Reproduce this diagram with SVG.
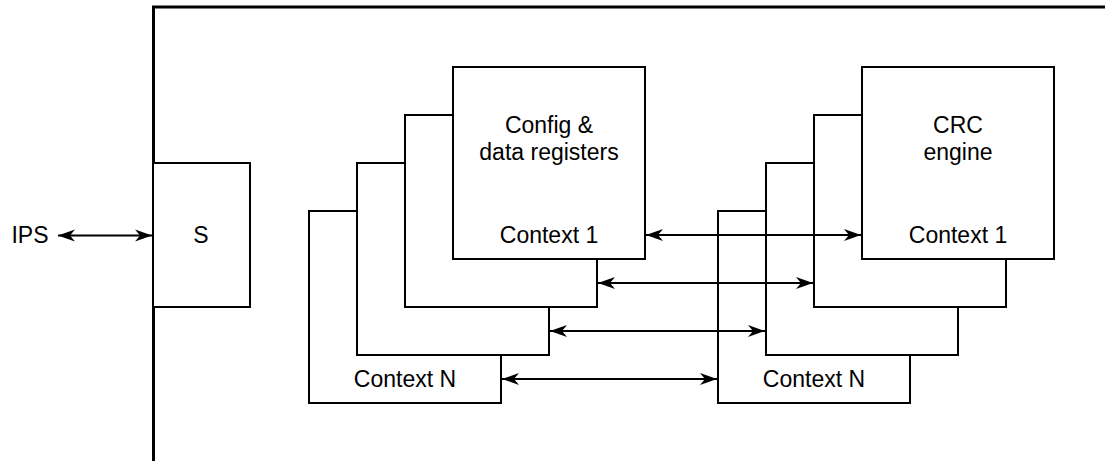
<svg xmlns="http://www.w3.org/2000/svg" width="1105" height="461" viewBox="0 0 1105 461">
<style>
.box{fill:#fff;stroke:#000;stroke-width:2}
.lbl{font-family:"Liberation Sans",Arial,sans-serif;font-size:23px;fill:#000;text-anchor:middle}
.conn{stroke:#000;stroke-width:2;fill:none;marker-start:url(#ah);marker-end:url(#ah)}
</style>
<defs>
<marker id="ah" markerUnits="userSpaceOnUse" markerWidth="20" markerHeight="14" viewBox="0 -7 18 14" refX="17" refY="0" orient="auto-start-reverse">
<path d="M0,-6 L17,0 L0,6 L5,0 Z" fill="#000"/>
</marker>
</defs>
<rect width="1105" height="461" fill="#fff"/>
<g id="frame">
<path d="M153.5,461 V7 H1105" fill="none" stroke="#000" stroke-width="3"/>
</g>
<g id="s-block">
<rect class="box" x="153" y="163" width="97" height="144"/>
<text class="lbl" x="201" y="243">S</text>
</g>
<text id="ips" class="lbl" x="30" y="243">IPS</text>
<g id="regs-n">
<rect class="box" x="309" y="211" width="192" height="192"/>
<text class="lbl" x="405" y="387">Context N</text>
</g>
<g id="regs-3">
<rect class="box" x="357" y="163" width="192" height="192"/>
</g>
<g id="regs-2">
<rect class="box" x="405" y="115" width="192" height="192"/>
</g>
<g id="regs-1">
<rect class="box" x="453" y="67" width="192" height="192"/>
<text class="lbl" x="549" y="133">Config &amp;</text>
<text class="lbl" x="549" y="160">data registers</text>
<text class="lbl" x="549" y="243">Context 1</text>
</g>
<g id="crc-n">
<rect class="box" x="718" y="211" width="192" height="192"/>
<text class="lbl" x="814" y="387">Context N</text>
</g>
<g id="crc-3">
<rect class="box" x="766" y="163" width="192" height="192"/>
</g>
<g id="crc-2">
<rect class="box" x="814" y="115" width="192" height="192"/>
</g>
<g id="crc-1">
<rect class="box" x="862" y="67" width="192" height="192"/>
<text class="lbl" x="958" y="133">CRC</text>
<text class="lbl" x="958" y="160">engine</text>
<text class="lbl" x="958" y="243">Context 1</text>
</g>
<g id="connectors">
<line class="conn" x1="58" y1="235.5" x2="152" y2="235.5"/>
<line class="conn" x1="646" y1="235" x2="861" y2="235"/>
<line class="conn" x1="598" y1="283" x2="813" y2="283"/>
<line class="conn" x1="550" y1="331" x2="765" y2="331"/>
<line class="conn" x1="502" y1="379" x2="717" y2="379"/>
</g>
</svg>
